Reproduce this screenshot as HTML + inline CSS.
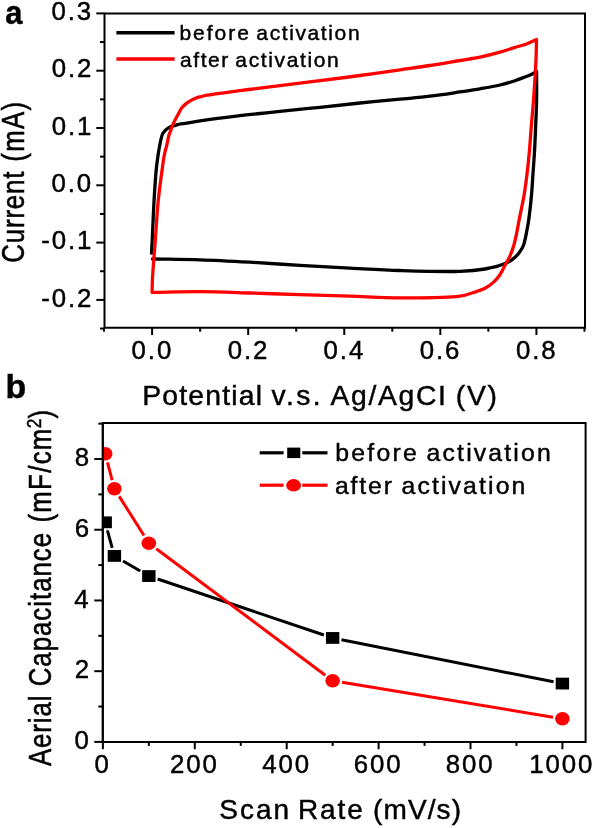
<!DOCTYPE html>
<html><head><meta charset="utf-8"><style>
html,body{margin:0;padding:0;background:#fff;}
svg{display:block;will-change:transform;}
text{font-family:"Liberation Sans", sans-serif;fill:#000;stroke:#000;stroke-width:0.45px;}
</style></head><body>
<svg width="596" height="828" viewBox="0 0 596 828">
<defs><clipPath id="clipb"><rect x="102.8" y="423.1" width="482.8" height="318.79999999999995"/></clipPath></defs>
<rect width="596" height="828" fill="#fff"/>
<path d="M104.5,13.4 H585.0 V327.7 H104.5 Z" fill="none" stroke="#000" stroke-width="2.0" stroke-linejoin="miter"/>
<line x1="96.30" y1="13.40" x2="104.50" y2="13.40" stroke="#000" stroke-width="2.0"/>
<text transform="translate(51.47,20.10) scale(1.0000,1)" font-size="25.80" text-anchor="start" font-weight="normal" letter-spacing="1.9">0.3</text>
<line x1="96.30" y1="70.70" x2="104.50" y2="70.70" stroke="#000" stroke-width="2.0"/>
<text transform="translate(51.73,77.40) scale(1.0000,1)" font-size="25.80" text-anchor="start" font-weight="normal" letter-spacing="1.9">0.2</text>
<line x1="96.30" y1="128.00" x2="104.50" y2="128.00" stroke="#000" stroke-width="2.0"/>
<text transform="translate(51.73,134.70) scale(1.0000,1)" font-size="25.80" text-anchor="start" font-weight="normal" letter-spacing="1.9">0.1</text>
<line x1="96.30" y1="185.30" x2="104.50" y2="185.30" stroke="#000" stroke-width="2.0"/>
<text transform="translate(51.47,192.00) scale(1.0000,1)" font-size="25.80" text-anchor="start" font-weight="normal" letter-spacing="1.9">0.0</text>
<line x1="96.30" y1="242.60" x2="104.50" y2="242.60" stroke="#000" stroke-width="2.0"/>
<text transform="translate(41.31,249.30) scale(1.0000,1)" font-size="25.80" text-anchor="start" font-weight="normal" letter-spacing="1.9">-0.1</text>
<line x1="96.30" y1="299.90" x2="104.50" y2="299.90" stroke="#000" stroke-width="2.0"/>
<text transform="translate(41.31,306.60) scale(1.0000,1)" font-size="25.80" text-anchor="start" font-weight="normal" letter-spacing="1.9">-0.2</text>
<line x1="100.00" y1="42.05" x2="104.50" y2="42.05" stroke="#000" stroke-width="2.0"/>
<line x1="100.00" y1="99.35" x2="104.50" y2="99.35" stroke="#000" stroke-width="2.0"/>
<line x1="100.00" y1="156.65" x2="104.50" y2="156.65" stroke="#000" stroke-width="2.0"/>
<line x1="100.00" y1="213.95" x2="104.50" y2="213.95" stroke="#000" stroke-width="2.0"/>
<line x1="100.00" y1="271.25" x2="104.50" y2="271.25" stroke="#000" stroke-width="2.0"/>
<line x1="100.00" y1="328.55" x2="104.50" y2="328.55" stroke="#000" stroke-width="2.0"/>
<line x1="152.10" y1="327.70" x2="152.10" y2="335.00" stroke="#000" stroke-width="2.0"/>
<text transform="translate(131.57,358.60) scale(1.0000,1)" font-size="25.80" text-anchor="start" font-weight="normal" letter-spacing="1.9">0.0</text>
<line x1="248.18" y1="327.70" x2="248.18" y2="335.00" stroke="#000" stroke-width="2.0"/>
<text transform="translate(227.78,358.60) scale(1.0000,1)" font-size="25.80" text-anchor="start" font-weight="normal" letter-spacing="1.9">0.2</text>
<line x1="344.26" y1="327.70" x2="344.26" y2="335.00" stroke="#000" stroke-width="2.0"/>
<text transform="translate(323.60,358.60) scale(1.0000,1)" font-size="25.80" text-anchor="start" font-weight="normal" letter-spacing="1.9">0.4</text>
<line x1="440.34" y1="327.70" x2="440.34" y2="335.00" stroke="#000" stroke-width="2.0"/>
<text transform="translate(419.81,358.60) scale(1.0000,1)" font-size="25.80" text-anchor="start" font-weight="normal" letter-spacing="1.9">0.6</text>
<line x1="536.42" y1="327.70" x2="536.42" y2="335.00" stroke="#000" stroke-width="2.0"/>
<text transform="translate(515.89,358.60) scale(1.0000,1)" font-size="25.80" text-anchor="start" font-weight="normal" letter-spacing="1.9">0.8</text>
<line x1="104.06" y1="327.70" x2="104.06" y2="331.70" stroke="#000" stroke-width="2.0"/>
<line x1="200.14" y1="327.70" x2="200.14" y2="331.70" stroke="#000" stroke-width="2.0"/>
<line x1="296.22" y1="327.70" x2="296.22" y2="331.70" stroke="#000" stroke-width="2.0"/>
<line x1="392.30" y1="327.70" x2="392.30" y2="331.70" stroke="#000" stroke-width="2.0"/>
<line x1="488.38" y1="327.70" x2="488.38" y2="331.70" stroke="#000" stroke-width="2.0"/>
<line x1="584.46" y1="327.70" x2="584.46" y2="331.70" stroke="#000" stroke-width="2.0"/>
<text transform="translate(142.24,404.60) scale(1.0000,1)" font-size="28.30" text-anchor="start" font-weight="normal" letter-spacing="1.197">Potential</text>
<text transform="translate(271.62,404.60) scale(1.0000,1)" font-size="28.30" text-anchor="start" font-weight="normal" letter-spacing="2.382">v.s.</text>
<text transform="translate(330.60,404.60) scale(1.0000,1)" font-size="28.30" text-anchor="start" font-weight="normal" letter-spacing="1.645">Ag/AgCI</text>
<text transform="translate(455.70,404.60) scale(1.0000,1)" font-size="28.30" text-anchor="start" font-weight="normal" letter-spacing="1.779">(V)</text>
<text transform="translate(23.90,262.79) scale(1.2000,1) rotate(-90)" font-size="25.80" text-anchor="start" font-weight="normal" letter-spacing="0.879">Current</text>
<text transform="translate(23.90,161.75) scale(1.2000,1) rotate(-90)" font-size="25.80" text-anchor="start" font-weight="normal" letter-spacing="1.289">(mA)</text>
<text transform="translate(5.30,23.80) scale(0.9200,1)" font-size="33.60" text-anchor="start" font-weight="bold" >a</text>
<line x1="116.40" y1="32.80" x2="174.60" y2="32.80" stroke="#000" stroke-width="3.5"/>
<line x1="116.40" y1="59.10" x2="174.60" y2="59.10" stroke="#f00" stroke-width="3.5"/>
<text transform="translate(179.43,39.70) scale(1.0000,1)" font-size="21.00" text-anchor="start" font-weight="normal" letter-spacing="1.996">before</text>
<text transform="translate(256.36,39.70) scale(1.0000,1)" font-size="21.00" text-anchor="start" font-weight="normal" letter-spacing="1.609">activation</text>
<text transform="translate(180.06,66.70) scale(1.0000,1)" font-size="21.00" text-anchor="start" font-weight="normal" letter-spacing="1.565">after</text>
<text transform="translate(235.36,66.70) scale(1.0000,1)" font-size="21.00" text-anchor="start" font-weight="normal" letter-spacing="1.631">activation</text>
<path d="M151.50,253.20 C151.73,248.80 151.92,245.59 152.20,240.00 C152.69,230.27 153.37,212.37 154.10,200.00 C154.73,189.28 155.39,178.27 156.20,170.00 C156.78,164.13 157.43,159.49 158.10,155.00 C158.65,151.32 159.09,148.39 159.80,145.00 C160.54,141.43 161.30,136.65 162.50,134.10 C163.25,132.51 164.14,131.62 165.10,130.60 C166.01,129.63 167.02,128.80 168.10,128.10 C169.18,127.40 170.38,126.86 171.60,126.40 C172.84,125.93 174.14,125.68 175.50,125.30 C176.99,124.88 178.61,124.33 180.20,124.00 C181.78,123.67 182.96,123.61 185.00,123.30 C188.61,122.75 193.79,121.80 200.00,120.90 C210.12,119.43 228.95,117.03 240.00,115.70 C247.81,114.76 253.33,114.23 260.00,113.50 C266.67,112.77 272.19,112.12 280.00,111.30 C291.04,110.14 306.67,108.68 320.00,107.30 C333.34,105.92 346.66,104.35 360.00,103.00 C373.33,101.65 387.63,100.41 400.00,99.20 C410.72,98.15 420.01,97.41 430.00,96.20 C440.01,94.98 451.01,93.24 460.00,91.90 C467.34,90.80 473.34,89.95 480.00,88.80 C486.68,87.65 493.84,86.46 500.00,85.00 C505.39,83.72 510.53,82.17 515.00,80.70 C518.70,79.49 522.24,78.06 525.00,77.00 C526.96,76.25 528.24,75.82 530.00,75.00 C532.07,74.04 534.40,72.67 536.60,71.50 L536.60,71.50 C536.60,81.00 536.78,90.38 536.60,100.00 C536.42,109.87 535.87,121.01 535.50,130.00 C535.20,137.34 535.00,142.96 534.60,150.00 C534.16,157.87 533.44,167.13 532.90,175.00 C532.41,182.04 532.14,187.97 531.50,195.00 C530.78,202.88 529.69,213.11 528.70,220.00 C528.00,224.89 527.35,228.34 526.50,232.50 C525.65,236.68 524.74,241.88 523.60,245.00 C522.87,247.00 522.18,248.12 521.20,249.70 C520.09,251.48 518.74,253.44 517.20,255.10 C515.62,256.81 513.78,258.42 511.80,259.80 C509.76,261.23 507.38,262.49 505.10,263.50 C502.91,264.47 500.65,265.13 498.40,265.80 C496.18,266.46 493.94,266.97 491.70,267.50 C489.47,268.03 487.96,268.53 485.00,269.00 C479.33,269.89 470.14,270.90 460.00,271.30 C444.32,271.91 419.08,271.09 400.00,270.50 C382.57,269.97 366.67,268.95 350.00,268.10 C333.33,267.25 316.66,266.38 300.00,265.40 C283.33,264.42 266.67,263.13 250.00,262.20 C233.34,261.27 216.46,260.33 200.00,259.80 C183.97,259.28 168.33,259.27 152.50,259.00" fill="none" stroke="#000" stroke-width="3.3" stroke-linejoin="round" stroke-linecap="round"/>
<path d="M152.10,292.40 C152.20,288.27 152.24,283.91 152.40,280.00 C152.55,276.49 152.71,274.22 153.00,270.00 C153.50,262.68 154.49,250.72 155.30,240.00 C156.24,227.62 157.05,212.36 158.30,200.00 C159.38,189.27 160.97,178.28 162.10,170.00 C162.90,164.14 163.41,159.48 164.30,155.00 C165.03,151.31 166.02,148.34 166.80,145.00 C167.58,141.67 168.28,137.46 169.00,135.00 C169.44,133.51 169.81,132.84 170.30,131.50 C170.96,129.69 171.76,127.09 172.60,125.10 C173.37,123.28 174.22,121.73 175.10,120.00 C176.02,118.19 176.93,116.43 178.00,114.50 C179.21,112.32 180.52,109.51 182.00,107.60 C183.26,105.98 184.60,104.79 186.10,103.60 C187.63,102.39 189.40,101.35 191.10,100.40 C192.74,99.49 194.40,98.64 196.10,98.00 C197.76,97.38 199.52,97.04 201.20,96.60 C202.82,96.17 203.66,95.86 206.00,95.40 C212.17,94.20 230.16,91.91 240.00,90.60 C247.54,89.60 251.55,89.15 260.00,88.10 C274.64,86.28 302.02,82.98 320.00,80.70 C334.68,78.84 346.67,77.32 360.00,75.50 C373.34,73.68 387.62,71.57 400.00,69.80 C410.72,68.27 420.01,67.05 430.00,65.50 C440.01,63.95 451.01,62.01 460.00,60.50 C467.34,59.26 473.36,58.49 480.00,57.10 C486.69,55.70 493.84,53.83 500.00,52.10 C505.38,50.59 510.50,48.76 515.00,47.40 C518.66,46.29 521.59,45.74 525.00,44.50 C528.74,43.13 532.67,41.10 536.50,39.40 L536.50,39.40 C536.33,46.27 536.35,52.01 536.00,60.00 C535.52,71.15 534.40,87.63 533.50,100.00 C532.72,110.72 531.71,121.01 531.00,130.00 C530.42,137.34 530.08,143.34 529.50,150.00 C528.92,156.67 528.33,162.97 527.50,170.00 C526.57,177.88 525.49,186.69 524.10,195.00 C522.70,203.36 520.43,213.09 519.10,220.00 C518.16,224.88 517.66,228.34 516.80,232.50 C515.93,236.68 515.09,240.96 513.90,245.00 C512.74,248.92 511.36,252.91 509.80,256.40 C508.39,259.55 506.71,262.10 505.10,265.10 C503.38,268.29 501.82,272.07 499.80,275.00 C497.95,277.68 495.98,279.94 493.60,282.10 C491.08,284.39 488.21,286.60 485.00,288.30 C481.54,290.13 477.43,291.22 473.40,292.50 C469.12,293.86 466.14,295.28 460.00,296.20 C447.24,298.11 419.09,297.95 400.00,297.90 C382.57,297.85 366.67,296.73 350.00,296.20 C333.33,295.67 316.67,295.23 300.00,294.70 C283.33,294.17 266.67,293.50 250.00,293.00 C233.33,292.50 216.49,291.79 200.00,291.70 C183.86,291.61 168.07,292.17 152.10,292.40" fill="none" stroke="#f00" stroke-width="3.3" stroke-linejoin="round" stroke-linecap="round"/>
<text transform="translate(5.50,397.60) scale(1.0300,1)" font-size="32.90" text-anchor="start" font-weight="bold" >b</text>
<path d="M102.8,423.1 H585.6 V741.9 H102.8 Z" fill="none" stroke="#000" stroke-width="2.0"/>
<line x1="94.30" y1="741.90" x2="102.80" y2="741.90" stroke="#000" stroke-width="2.0"/>
<text transform="translate(74.58,749.20) scale(1.0000,1)" font-size="25.80" text-anchor="start" font-weight="normal" >0</text>
<line x1="94.30" y1="671.18" x2="102.80" y2="671.18" stroke="#000" stroke-width="2.0"/>
<text transform="translate(74.84,678.48) scale(1.0000,1)" font-size="25.80" text-anchor="start" font-weight="normal" >2</text>
<line x1="94.30" y1="600.46" x2="102.80" y2="600.46" stroke="#000" stroke-width="2.0"/>
<text transform="translate(74.33,607.76) scale(1.0000,1)" font-size="25.80" text-anchor="start" font-weight="normal" >4</text>
<line x1="94.30" y1="529.74" x2="102.80" y2="529.74" stroke="#000" stroke-width="2.0"/>
<text transform="translate(74.84,537.04) scale(1.0000,1)" font-size="25.80" text-anchor="start" font-weight="normal" >6</text>
<line x1="94.30" y1="459.02" x2="102.80" y2="459.02" stroke="#000" stroke-width="2.0"/>
<text transform="translate(74.84,466.32) scale(1.0000,1)" font-size="25.80" text-anchor="start" font-weight="normal" >8</text>
<line x1="98.30" y1="706.54" x2="102.80" y2="706.54" stroke="#000" stroke-width="2.0"/>
<line x1="98.30" y1="635.82" x2="102.80" y2="635.82" stroke="#000" stroke-width="2.0"/>
<line x1="98.30" y1="565.10" x2="102.80" y2="565.10" stroke="#000" stroke-width="2.0"/>
<line x1="98.30" y1="494.38" x2="102.80" y2="494.38" stroke="#000" stroke-width="2.0"/>
<line x1="98.30" y1="423.66" x2="102.80" y2="423.66" stroke="#000" stroke-width="2.0"/>
<line x1="102.90" y1="741.90" x2="102.90" y2="749.20" stroke="#000" stroke-width="2.0"/>
<text transform="translate(94.48,772.80) scale(1.0000,1)" font-size="25.80" text-anchor="start" font-weight="normal" >0</text>
<line x1="194.80" y1="741.90" x2="194.80" y2="749.20" stroke="#000" stroke-width="2.0"/>
<text transform="translate(170.03,772.80) scale(1.0000,1)" font-size="25.80" text-anchor="start" font-weight="normal" letter-spacing="1.9">200</text>
<line x1="286.70" y1="741.90" x2="286.70" y2="749.20" stroke="#000" stroke-width="2.0"/>
<text transform="translate(262.32,772.80) scale(1.0000,1)" font-size="25.80" text-anchor="start" font-weight="normal" letter-spacing="1.9">400</text>
<line x1="378.60" y1="741.90" x2="378.60" y2="749.20" stroke="#000" stroke-width="2.0"/>
<text transform="translate(353.83,772.80) scale(1.0000,1)" font-size="25.80" text-anchor="start" font-weight="normal" letter-spacing="1.9">600</text>
<line x1="470.50" y1="741.90" x2="470.50" y2="749.20" stroke="#000" stroke-width="2.0"/>
<text transform="translate(445.86,772.80) scale(1.0000,1)" font-size="25.80" text-anchor="start" font-weight="normal" letter-spacing="1.9">800</text>
<line x1="562.40" y1="741.90" x2="562.40" y2="749.20" stroke="#000" stroke-width="2.0"/>
<text transform="translate(529.20,772.80) scale(1.0000,1)" font-size="25.80" text-anchor="start" font-weight="normal" letter-spacing="1.9">1000</text>
<line x1="148.85" y1="741.90" x2="148.85" y2="745.90" stroke="#000" stroke-width="2.0"/>
<line x1="240.75" y1="741.90" x2="240.75" y2="745.90" stroke="#000" stroke-width="2.0"/>
<line x1="332.65" y1="741.90" x2="332.65" y2="745.90" stroke="#000" stroke-width="2.0"/>
<line x1="424.55" y1="741.90" x2="424.55" y2="745.90" stroke="#000" stroke-width="2.0"/>
<line x1="516.45" y1="741.90" x2="516.45" y2="745.90" stroke="#000" stroke-width="2.0"/>
<text transform="translate(219.30,819.00) scale(1.0000,1)" font-size="28.00" text-anchor="start" font-weight="normal" letter-spacing="1.973">Scan</text>
<text transform="translate(297.96,819.00) scale(1.0000,1)" font-size="28.00" text-anchor="start" font-weight="normal" letter-spacing="1.893">Rate</text>
<text transform="translate(373.02,819.00) scale(1.0000,1)" font-size="28.00" text-anchor="start" font-weight="normal" letter-spacing="1.108">(mV/s)</text>
<text transform="translate(50.80,766.00) scale(1.2000,1) rotate(-90)" font-size="25.80" text-anchor="start" font-weight="normal" letter-spacing="0.892">Aerial</text>
<text transform="translate(50.80,686.29) scale(1.2000,1) rotate(-90)" font-size="25.80" text-anchor="start" font-weight="normal" letter-spacing="1.003">Capacitance</text>
<text transform="translate(50.80,522.55) scale(1.2000,1) rotate(-90)" font-size="25.80" text-anchor="start" font-weight="normal" letter-spacing="1.298">(mF/cm</text>
<text transform="translate(50.80,418.46) scale(1.2000,1) rotate(-90)" font-size="25.80" text-anchor="start" font-weight="normal" >)</text>
<text transform="translate(41.10,428.37) scale(1.2000,1) rotate(-90)" font-size="17.30" text-anchor="start" font-weight="normal" >2</text>
<g clip-path="url(#clipb)">
<line x1="107.39" y1="530.34" x2="112.19" y2="547.88" stroke="#000" stroke-width="3.0"/>
<line x1="122.99" y1="560.94" x2="140.25" y2="571.03" stroke="#000" stroke-width="3.0"/>
<line x1="157.64" y1="579.02" x2="323.86" y2="634.98" stroke="#000" stroke-width="3.0"/>
<line x1="341.51" y1="639.70" x2="553.54" y2="681.80" stroke="#000" stroke-width="3.0"/>
<rect x="98.50" y="516.41" width="13.4" height="11.8" fill="#000"/>
<rect x="107.69" y="550.01" width="13.4" height="11.8" fill="#000"/>
<rect x="142.15" y="570.16" width="13.4" height="11.8" fill="#000"/>
<rect x="325.95" y="632.04" width="13.4" height="11.8" fill="#000"/>
<rect x="555.70" y="677.66" width="13.4" height="11.8" fill="#000"/>
</g>
<g clip-path="url(#clipb)">
<line x1="107.47" y1="462.36" x2="112.12" y2="480.08" stroke="#f00" stroke-width="3.0"/>
<line x1="119.23" y1="496.37" x2="144.01" y2="535.52" stroke="#f00" stroke-width="3.0"/>
<line x1="156.27" y1="548.73" x2="325.23" y2="675.18" stroke="#f00" stroke-width="3.0"/>
<line x1="342.00" y1="682.27" x2="553.05" y2="717.16" stroke="#f00" stroke-width="3.0"/>
<ellipse cx="105.20" cy="453.72" rx="7.3" ry="6.7" fill="#f00"/>
<ellipse cx="114.39" cy="488.72" rx="7.3" ry="6.7" fill="#f00"/>
<ellipse cx="148.85" cy="543.18" rx="7.3" ry="6.7" fill="#f00"/>
<ellipse cx="332.65" cy="680.73" rx="7.3" ry="6.7" fill="#f00"/>
<ellipse cx="562.40" cy="718.70" rx="7.3" ry="6.7" fill="#f00"/>
</g>
<line x1="102.80" y1="423.10" x2="102.80" y2="741.90" stroke="#000" stroke-width="2.0"/>
<line x1="259.70" y1="452.80" x2="283.60" y2="452.80" stroke="#000" stroke-width="3.2"/>
<line x1="302.30" y1="452.80" x2="327.50" y2="452.80" stroke="#000" stroke-width="3.2"/>
<rect x="287.2" y="447.6" width="13.1" height="10.5" fill="#000"/>
<line x1="259.70" y1="485.20" x2="283.60" y2="485.20" stroke="#f00" stroke-width="3.2"/>
<line x1="302.30" y1="485.20" x2="327.50" y2="485.20" stroke="#f00" stroke-width="3.2"/>
<ellipse cx="293.6" cy="485.3" rx="7.4" ry="6.2" fill="#f00"/>
<text transform="translate(335.26,461.00) scale(1.0000,1)" font-size="24.80" text-anchor="start" font-weight="normal" letter-spacing="2.229">before</text>
<text transform="translate(426.61,461.00) scale(1.0000,1)" font-size="24.80" text-anchor="start" font-weight="normal" letter-spacing="2.147">activation</text>
<text transform="translate(335.01,493.80) scale(1.0000,1)" font-size="24.80" text-anchor="start" font-weight="normal" letter-spacing="1.822">after</text>
<text transform="translate(401.51,493.80) scale(1.0000,1)" font-size="24.80" text-anchor="start" font-weight="normal" letter-spacing="2.125">activation</text>
</svg></body></html>
